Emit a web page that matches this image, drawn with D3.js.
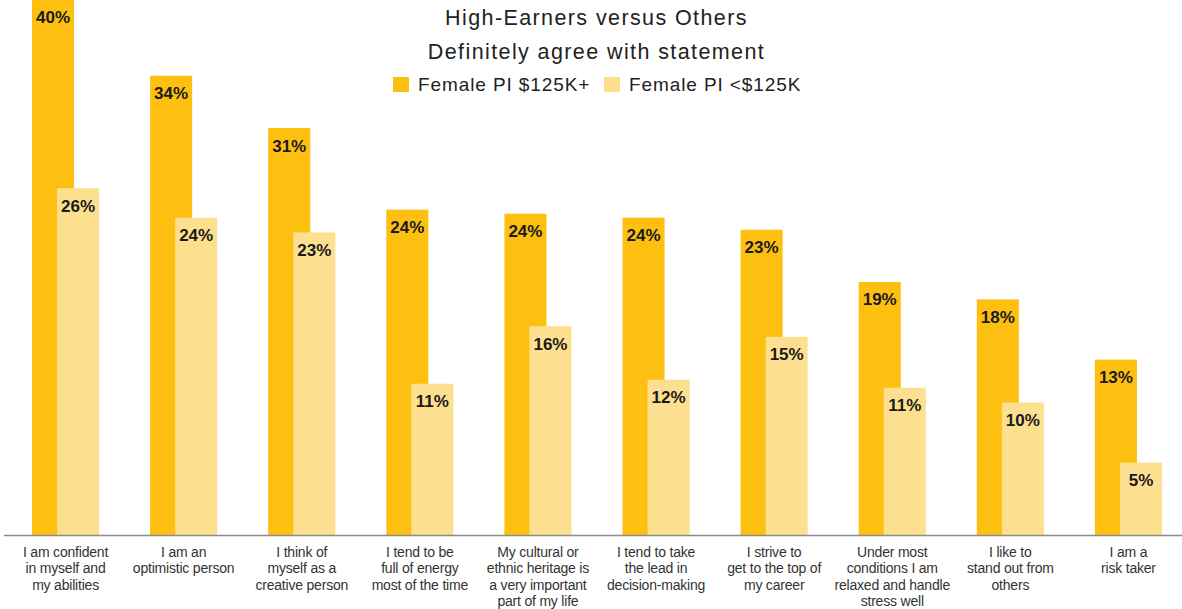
<!DOCTYPE html>
<html>
<head>
<meta charset="utf-8">
<script src="https://cdn.jsdelivr.net/npm/d3@7"></script>
<style>
  html, body { margin: 0; padding: 0; background: #ffffff; }
  svg { display: block; }
</style>
</head>
<body>
<svg id="chart" width="1182" height="609"></svg>
<script>
// ---- data ----
const categories = [
  "I am confident\nin myself and\nmy abilities",
  "I am an\noptimistic person",
  "I think of\nmyself as a\ncreative person",
  "I tend to be\nfull of energy\nmost of the time",
  "My cultural or\nethnic heritage is\na very important\npart of my life",
  "I tend to take\nthe lead in\ndecision-making",
  "I strive to\nget to the top of\nmy career",
  "Under most\nconditions I am\nrelaxed and handle\nstress well",
  "I like to\nstand out from\nothers",
  "I am a\nrisk taker"
];
const seriesNames = ["Female PI $125K+", "Female PI <$125K"];
const highEarners = [40, 34.3, 30.4, 24.3, 24.0, 23.7, 22.8, 18.9, 17.6, 13.1];
const others      = [25.9, 23.7, 22.6, 11.3, 15.6, 11.6, 14.8, 11.0, 9.9, 5.4];
const highLabels  = ["40%", "34%", "31%", "24%", "24%", "24%", "23%", "19%", "18%", "13%"];
const otherLabels = ["26%", "24%", "23%", "11%", "16%", "12%", "15%", "11%", "10%", "5%"];
const titleLines = ["High-Earners versus Others", "Definitely agree with statement"];
const colors = ["#FDC010", "#FDE08F"];

// ---- layout ----
const svg = d3.select("#chart");
const baseY = 535;
const x = d3.scaleBand().domain(d3.range(categories.length)).range([6.5, 1187.5]).padding(0);
const y = d3.scaleLinear().domain([0, 40]).range([baseY, -0.5]);
const bw = x.bandwidth();
const barW = bw * 0.356;
const offDark = bw * 0.216;
const offLight = bw * 0.428;

const series = [
  { vals: highEarners, labels: highLabels, off: offDark, color: colors[0] },
  { vals: others, labels: otherLabels, off: offLight, color: colors[1] }
];

series.forEach(s => {
  const g = svg.append("g");
  g.selectAll("rect").data(s.vals).join("rect")
    .attr("x", (d, i) => x(i) + s.off)
    .attr("y", d => y(d))
    .attr("width", barW)
    .attr("height", d => baseY - y(d))
    .attr("fill", s.color);
  g.selectAll("text").data(s.vals).join("text")
    .attr("x", (d, i) => x(i) + s.off + barW / 2)
    .attr("y", d => y(d) + 23.5)
    .attr("text-anchor", "middle")
    .attr("font-family", "'Liberation Sans', Arial, sans-serif")
    .attr("font-weight", "bold")
    .attr("font-size", 17)
    .attr("fill", "#1a1a1a")
    .text((d, i) => s.labels[i]);
});

// axis line
svg.append("line")
  .attr("x1", 4).attr("x2", 1182)
  .attr("y1", baseY + 0.5).attr("y2", baseY + 0.5)
  .attr("stroke", "#8c8c8c").attr("stroke-width", 1.6);

// category labels
const lab = svg.append("g");
categories.forEach((c, i) => {
  const t = lab.append("text")
    .attr("x", x(i) + bw / 2)
    .attr("y", 557)
    .attr("text-anchor", "middle")
    .attr("font-family", "'Liberation Sans', Arial, sans-serif")
    .attr("font-size", 14)
    .attr("letter-spacing", -0.2)
    .attr("fill", "#333");
  c.split("\n").forEach((line, k) => {
    t.append("tspan").attr("x", x(i) + bw / 2).attr("y", 557 + k * 16.3).text(line);
  });
});

// title
svg.selectAll("text.title").data(titleLines).join("text")
  .attr("class", "title")
  .attr("x", 596.5)
  .attr("y", (d, i) => 25 + i * 34)
  .attr("text-anchor", "middle")
  .attr("font-family", "'Liberation Sans', Arial, sans-serif")
  .attr("font-size", 21.5)
  .attr("letter-spacing", 1.4)
  .attr("fill", "#222")
  .text(d => d);

// legend
const legendX = [393, 604];
const leg = svg.append("g");
seriesNames.forEach((n, i) => {
  leg.append("rect").attr("x", legendX[i]).attr("y", 77).attr("width", 16).attr("height", 15).attr("fill", colors[i]);
  leg.append("text")
    .attr("x", legendX[i] + 25)
    .attr("y", 91)
    .attr("font-family", "'Liberation Sans', Arial, sans-serif")
    .attr("font-size", 19)
    .attr("letter-spacing", 0.9)
    .attr("fill", "#222")
    .text(n);
});
</script>
</body>
</html>
